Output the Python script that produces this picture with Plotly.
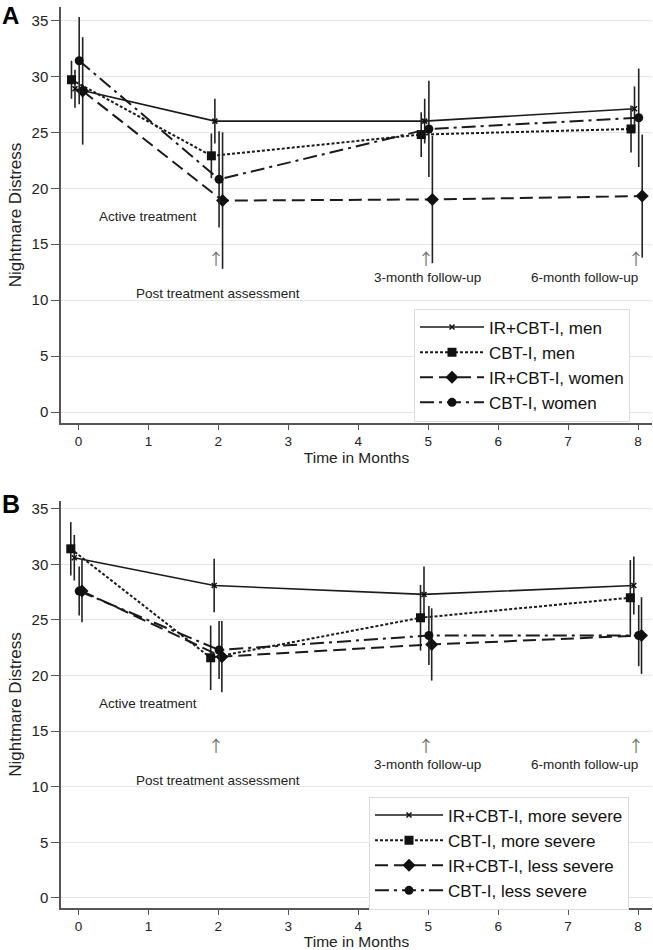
import plotly.graph_objects as go

# ---------------- data ----------------
times = [0, 2, 5, 8]

# Panel A (sex)
a_names = ["IR+CBT-I, men", "CBT-I, men", "IR+CBT-I, women", "CBT-I, women"]
a_offsets = [-0.05, -0.10, 0.06, 0.01]
a_ir_men = [28.9, 26.0, 26.0, 27.1]
a_ir_men_err = [1.7, 2.0, 2.0, 2.0]
a_cbt_men = [29.7, 22.9, 24.8, 25.3]
a_cbt_men_err = [1.7, 2.0, 2.0, 2.1]
a_ir_women = [28.7, 18.9, 19.0, 19.3]
a_ir_women_err = [4.8, 6.1, 5.7, 5.5]
a_cbt_women = [31.4, 20.8, 25.3, 26.3]
a_cbt_women_err = [3.9, 4.3, 4.3, 4.4]

# Panel B (severity)
b_names = ["IR+CBT-I, more severe", "CBT-I, more severe", "IR+CBT-I, less severe", "CBT-I, less severe"]
b_offsets = [-0.06, -0.11, 0.05, 0.01]
b_ir_more = [30.6, 28.1, 27.3, 28.1]
b_ir_more_err = [2.05, 2.4, 2.5, 2.6]
b_cbt_more = [31.4, 21.6, 25.2, 27.0]
b_cbt_more_err = [2.4, 2.9, 2.95, 3.4]
b_ir_less = [27.6, 21.7, 22.8, 23.6]
b_ir_less_err = [2.8, 3.2, 3.25, 3.45]
b_cbt_less = [27.6, 22.3, 23.6, 23.6]
b_cbt_less_err = [2.2, 2.6, 2.65, 2.75]

y_ticks = [0, 5, 10, 15, 20, 25, 30, 35]
x_ticks = [0, 1, 2, 3, 4, 5, 6, 7, 8]
milestone_times = [2, 5, 8]
phase_labels = ["Active treatment", "Post treatment assessment", "3-month follow-up", "6-month follow-up"]

# ---------------- styles ----------------
FONT = "Liberation Sans, Arial, sans-serif"
styles = [
    dict(dash="solid", width=1.6, symbol="x-thin", msize=5),
    dict(dash="3px,2px", width=2.0, symbol="square", msize=9),
    dict(dash="13px,6px", width=2.0, symbol="diamond", msize=10),
    dict(dash="14px,5px,3px,5px", width=2.0, symbol="circle", msize=9),
]

fig = go.Figure()

def add_panel(names, offsets, series, errs, xa, ya, legend):
    for i, (nm, off, ys, es) in enumerate(zip(names, offsets, series, errs)):
        st = styles[i]
        xs = [t + off for t in times]
        fig.add_trace(go.Scatter(
            x=xs, y=ys, name=nm, mode="lines+markers",
            xaxis=xa, yaxis=ya, legend=legend,
            line=dict(color="#1a1a1a", width=st["width"], dash=st["dash"]),
            marker=dict(symbol=st["symbol"], size=st["msize"], color="#111",
                        line=dict(color="#111", width=1.5 if st["symbol"] == "x-thin" else 0)),
            error_y=dict(type="data", array=es, visible=True, width=0,
                         thickness=1.6, color="#222"),
        ))

add_panel(a_names, a_offsets,
          [a_ir_men, a_cbt_men, a_ir_women, a_cbt_women],
          [a_ir_men_err, a_cbt_men_err, a_ir_women_err, a_cbt_women_err],
          "x", "y", "legend")
add_panel(b_names, b_offsets,
          [b_ir_more, b_cbt_more, b_ir_less, b_cbt_less],
          [b_ir_more_err, b_cbt_more_err, b_ir_less_err, b_cbt_less_err],
          "x2", "y2", "legend2")

W, H = 653, 950
axis_common = dict(showline=True, linecolor="#555", linewidth=1.5, ticks="outside",
                   tickcolor="#555", zeroline=False, mirror=False, automargin=False)

fig.update_layout(
    width=W, height=H, margin=dict(l=0, r=0, t=0, b=0, autoexpand=False),
    paper_bgcolor="white", plot_bgcolor="white",
    font=dict(family=FONT, color="#222"),
    showlegend=True,
    xaxis=dict(domain=[61 / W, 652 / W], range=[-0.25, 8.2], anchor="y",
               tickvals=x_ticks, ticklen=5, tickfont=dict(size=13.5),
               showgrid=False,
               title=dict(text="Time in Months", font=dict(size=15.5), standoff=0),
               **axis_common),
    yaxis=dict(domain=[1 - 423 / H, 1 - 7 / H], range=[-0.98, 36.2], anchor="x",
               tickvals=y_ticks, ticklen=8, tickfont=dict(size=15),
               showgrid=True, gridcolor="#e6e6e6", gridwidth=1.2,
               title=dict(text="Nightmare Distress", font=dict(size=17), standoff=6),
               **axis_common),
    xaxis2=dict(domain=[61 / W, 652 / W], range=[-0.25, 8.2], anchor="y2",
                tickvals=x_ticks, ticklen=5, tickfont=dict(size=13.5),
                showgrid=False,
                title=dict(text="Time in Months", font=dict(size=15.5), standoff=0),
                **axis_common),
    yaxis2=dict(domain=[1 - 908 / H, 1 - 501 / H], range=[-0.9, 35.7], anchor="x2",
                tickvals=y_ticks, ticklen=8, tickfont=dict(size=15),
                showgrid=True, gridcolor="#e6e6e6", gridwidth=1.2,
                title=dict(text="Nightmare Distress", font=dict(size=17), standoff=6),
                **axis_common),
    legend=dict(x=414 / W, xanchor="left", y=1 - 365 / H, yanchor="middle",
                bgcolor="white", bordercolor="#dcdcdc", borderwidth=1,
                font=dict(size=17, color="#111"), itemwidth=64, tracegroupgap=0),
    legend2=dict(x=369 / W, xanchor="left", y=1 - 853 / H, yanchor="middle",
                 bgcolor="white", bordercolor="#dcdcdc", borderwidth=1,
                 font=dict(size=17, color="#111"), itemwidth=68, tracegroupgap=0),
)

annotations = []
# panel letters
annotations.append(dict(text="<b>A</b>", xref="paper", yref="paper", x=0, y=1.0,
                        xanchor="left", yanchor="top", showarrow=False,
                        font=dict(size=24, color="#000", family=FONT)))
annotations.append(dict(text="<b>B</b>", xref="paper", yref="paper", x=0, y=1 - 488 / H,
                        xanchor="left", yanchor="top", showarrow=False,
                        font=dict(size=25, color="#000", family=FONT)))

for xa, ya in (("x", "y"), ("x2", "y2")):
    txtfont = dict(size=13.5, color="#222", family=FONT)
    annotations.append(dict(text=phase_labels[0], x=1.0, y=17.5, xref=xa, yref=ya,
                            showarrow=False, font=txtfont))
    annotations.append(dict(text=phase_labels[1], x=2.0, y=10.6, xref=xa, yref=ya,
                            showarrow=False, font=txtfont))
    annotations.append(dict(text=phase_labels[2], x=4.99, y=12.0, xref=xa, yref=ya,
                            showarrow=False, font=txtfont))
    annotations.append(dict(text=phase_labels[3], x=7.23, y=12.0, xref=xa, yref=ya,
                            showarrow=False, font=txtfont))
    for t in milestone_times:
        annotations.append(dict(text="↑", x=t - 0.03, y=13.8, xref=xa, yref=ya,
                                showarrow=False,
                                font=dict(size=16, color="#707070", family="Noto Sans CJK SC")))

fig.update_layout(annotations=annotations)

# remove the browser's default 8px body margin so the figure sits at the page origin
fig.write_html("out.html",
               config={"displayModeBar": False},
               post_script="document.body.style.margin='0';document.body.style.padding='0';")
